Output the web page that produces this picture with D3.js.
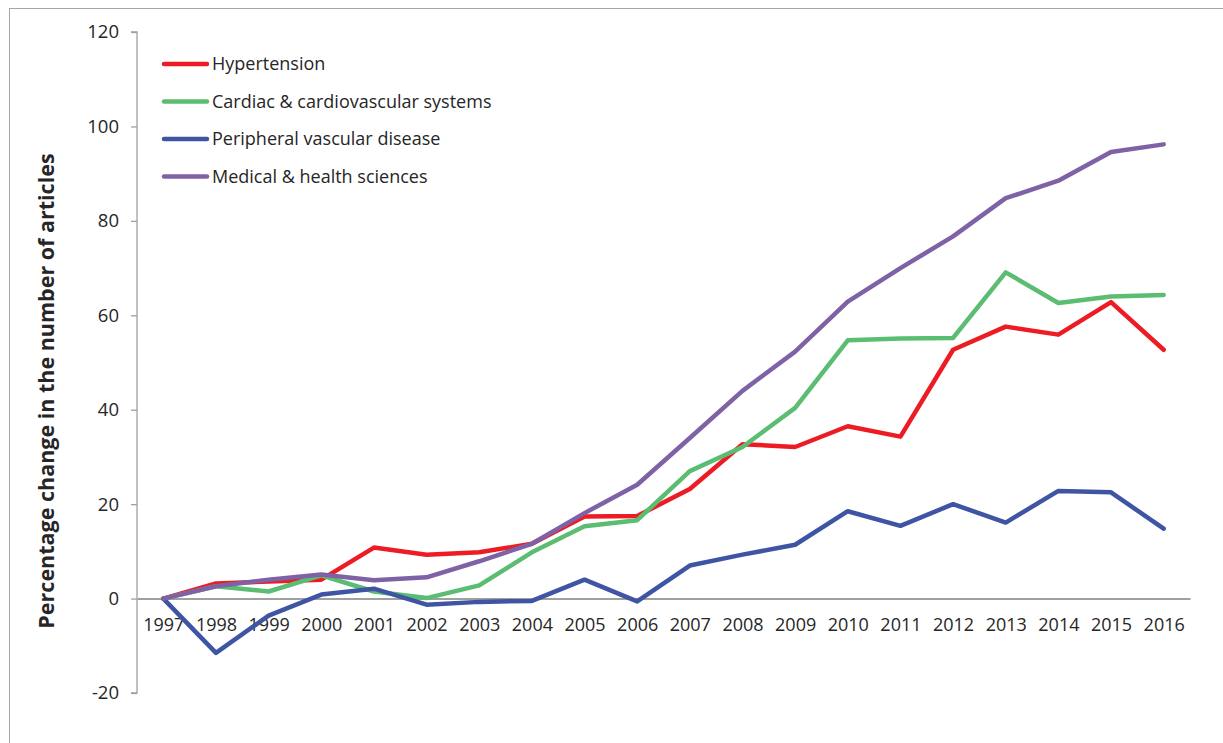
<!DOCTYPE html>
<html>
<head>
<meta charset="utf-8">
<script src="https://cdn.jsdelivr.net/npm/d3@7"></script>
<style>
  body { margin: 0; background: #fff; }
  svg text { font-family: "Open Sans", "Noto Sans", sans-serif; fill: #262626; }
</style>
</head>
<body>
<svg></svg>
<script>
// chart data
const years = ["1997","1998","1999","2000","2001","2002","2003","2004","2005","2006",
               "2007","2008","2009","2010","2011","2012","2013","2014","2015","2016"];
const hypertension = [0, 3.2, 3.6, 4.0, 10.8, 9.3, 9.8, 11.6, 17.4, 17.5,
                      23.2, 32.7, 32.1, 36.5, 34.3, 52.7, 57.6, 55.9, 62.8, 52.7];
const cardiac = [0, 2.6, 1.5, 4.9, 1.5, 0.1, 2.8, 9.8, 15.3, 16.6,
                 27.0, 32.1, 40.4, 54.7, 55.1, 55.2, 69.1, 62.6, 64.0, 64.3];
const peripheral = [0, -11.5, -3.6, 0.85, 2.1, -1.3, -0.7, -0.5, 4.0, -0.6,
                    7.0, 9.3, 11.4, 18.5, 15.4, 20.0, 16.1, 22.8, 22.5, 14.8];
const medical = [0, 2.6, 4.0, 5.1, 3.9, 4.5, 7.9, 11.6, 18.1, 24.1,
                 34.0, 44.0, 52.3, 62.9, 70.0, 76.7, 84.8, 88.5, 94.6, 96.2];
const yTicks = [-20, 0, 20, 40, 60, 80, 100, 120];

const series = [
  { name: "Hypertension", values: hypertension, color: "#ED1C24" },
  { name: "Cardiac & cardiovascular systems", values: cardiac, color: "#5BBD72" },
  { name: "Peripheral vascular disease", values: peripheral, color: "#3F55A4" },
  { name: "Medical & health sciences", values: medical, color: "#7F62A5" }
];

const w = 1223, h = 743;
const svg = d3.select("svg").attr("width", w).attr("height", h);

// outer frame
svg.append("rect")
  .attr("x", 9.5).attr("y", 8.5)
  .attr("width", w + 20).attr("height", h + 20)
  .attr("fill", "none").attr("stroke", "#a6a6a6").attr("stroke-width", 1);

const plotLeft = 137, plotRight = 1190, plotTop = 32, plotBottom = 693;

const x = d3.scalePoint().domain(years).range([plotLeft, plotRight]).padding(0.5);
const y = d3.scaleLinear().domain([-20, 120]).range([plotBottom, plotTop]);

// y axis
const yAxis = svg.append("g")
  .attr("transform", "translate(" + plotLeft + ",0)")
  .call(d3.axisLeft(y).tickValues(yTicks).tickFormat(d => String(d)).tickSize(6).tickPadding(12));
yAxis.selectAll("path, line").attr("stroke", "#a0a0a0").attr("stroke-width", 1.3);
yAxis.select(".domain").attr("d", "M-6," + y(120) + "H0V" + y(-20) + "H-6");
yAxis.selectAll("text").style("font-size", "18.5px").attr("fill", "#262626");

// zero line / x axis
const xAxis = svg.append("g")
  .attr("transform", "translate(0," + y(0) + ")")
  .call(d3.axisBottom(x).tickSize(0).tickPadding(20));
xAxis.select(".domain").attr("stroke", "#a0a0a0").attr("stroke-width", 2);
xAxis.selectAll("text").style("font-size", "18px").attr("fill", "#262626");

// axis title
svg.append("text")
  .attr("transform", "translate(54,391) rotate(-90)")
  .attr("text-anchor", "middle")
  .style("font-size", "21.5px")
  .style("font-weight", "bold")
  .text("Percentage change in the number of articles");

// lines
const line = d3.line()
  .x((d, i) => x(years[i]))
  .y(d => y(d));

svg.selectAll(".series")
  .data(series)
  .enter()
  .append("path")
  .attr("class", "series")
  .attr("d", d => line(d.values))
  .attr("fill", "none")
  .attr("stroke", d => d.color)
  .attr("stroke-width", 4.5)
  .attr("stroke-linejoin", "round")
  .attr("stroke-linecap", "round");

// legend
const legend = svg.selectAll(".legend")
  .data(series)
  .enter()
  .append("g")
  .attr("class", "legend")
  .attr("transform", (d, i) => "translate(164," + (64 + i * 37.5) + ")");
legend.append("line")
  .attr("x1", 0).attr("x2", 43)
  .attr("stroke", d => d.color)
  .attr("stroke-width", 4.5)
  .attr("stroke-linecap", "round");
legend.append("text")
  .attr("x", 48).attr("dy", "0.35em")
  .style("font-size", "18px")
  .text(d => d.name);
</script>
</body>
</html>
